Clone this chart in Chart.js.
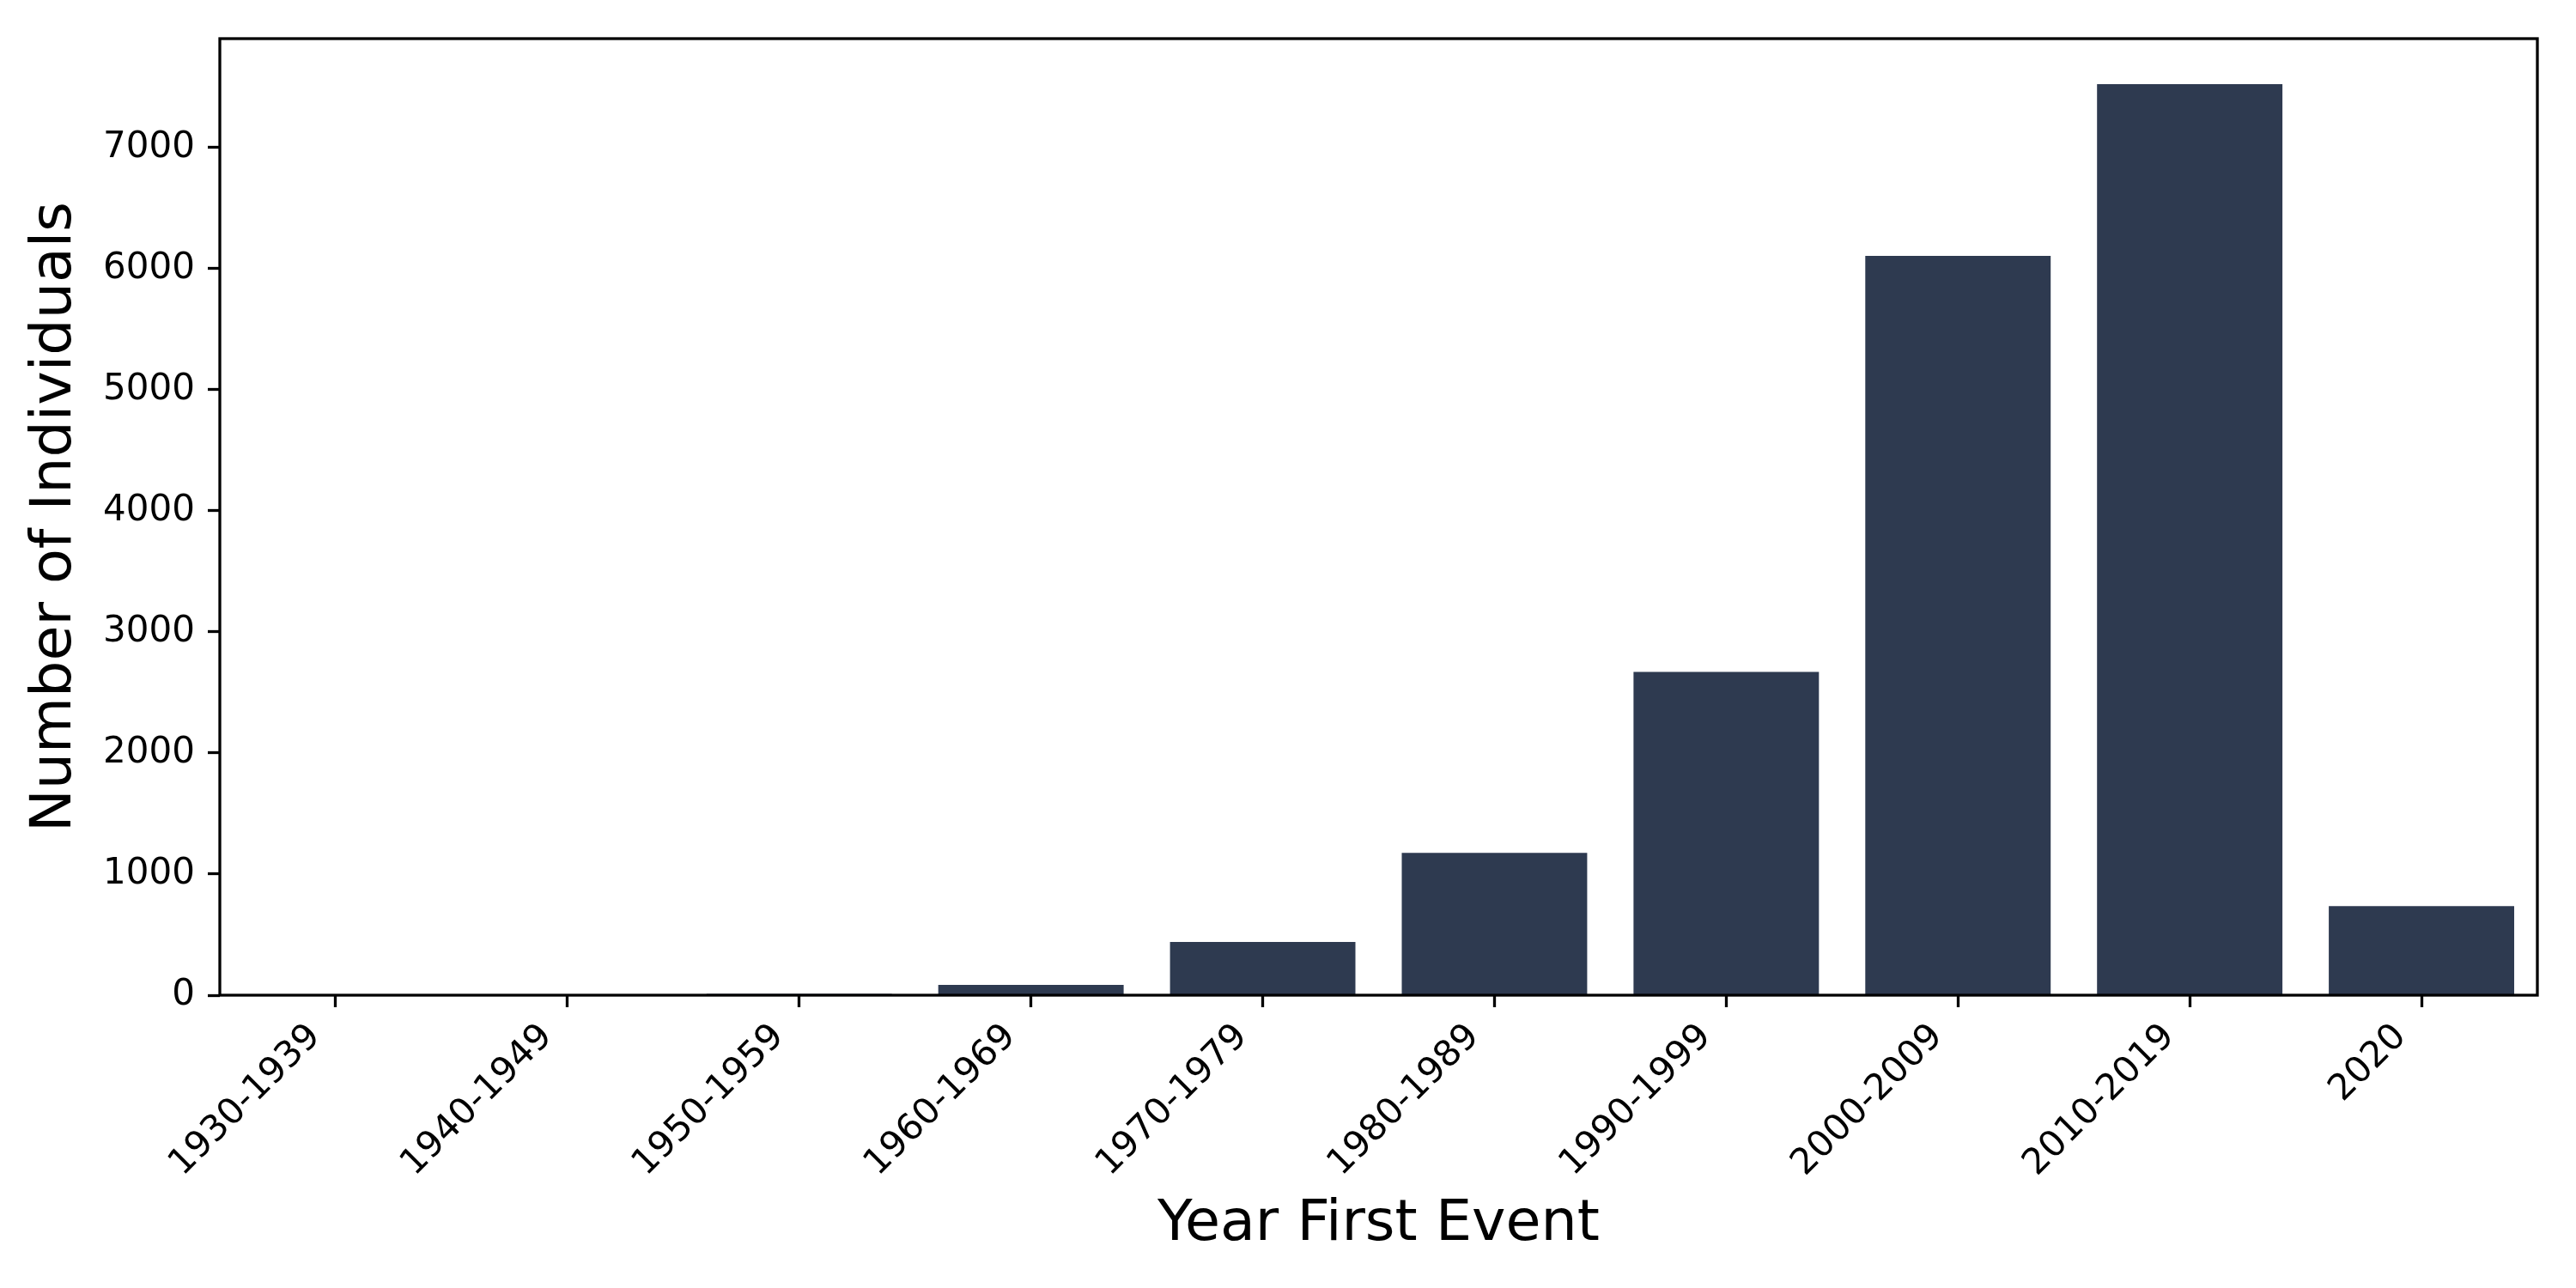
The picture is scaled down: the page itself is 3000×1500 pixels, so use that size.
<!DOCTYPE html>
<html>
<head>
<meta charset="utf-8">
<script src="https://cdn.jsdelivr.net/npm/chart.js@4/dist/chart.umd.min.js"></script>
<style>
  html, body { margin: 0; padding: 0; background: #fff; }
  #wrap { width: 3000px; height: 1500px; position: relative; }
</style>
</head>
<body>
<div id="wrap"><canvas id="myChart"></canvas></div>
<script>
// data
const decades = ["1930-1939", "1940-1949", "1950-1959", "1960-1969", "1970-1979",
  "1980-1989", "1990-1999", "2000-2009", "2010-2019", "2020"];
const individuals = [1, 1, 10, 85, 440, 1175, 2670, 6105, 7525, 735];
const yTicks = [0, 1000, 2000, 3000, 4000, 5000, 6000, 7000];
const yMax = 7900;

const barColor = "#2e3a50";
const font = "'DejaVu Sans', sans-serif";
const tickFont = { family: font, size: 42 };
const titleFont = { family: font, size: 66.7 };

// box around the plot, like the matplotlib spines
const frame = {
  id: "frame",
  afterDatasetsDraw(chart) {
    const { ctx, chartArea: a } = chart;
    ctx.save();
    ctx.strokeStyle = "#000";
    ctx.lineWidth = 3.3;
    ctx.strokeRect(a.left, a.top, a.right - a.left, a.bottom - a.top);
    ctx.restore();
  }
};

new Chart(document.getElementById("myChart"), {
  type: "bar",
  data: {
    labels: decades,
    datasets: [{
      data: individuals,
      backgroundColor: barColor,
      borderWidth: 0,
      categoryPercentage: 0.8,
      barPercentage: 1.0
    }]
  },
  options: {
    responsive: true,
    maintainAspectRatio: false,
    animation: false,
    layout: { padding: { left: 0, top: 45, right: 45, bottom: 0 } },
    plugins: { legend: { display: false }, tooltip: { enabled: false } },
    scales: {
      x: {
        offset: true,
        border: { display: false },
        grid: {
          offset: false,
          drawOnChartArea: false,
          drawTicks: true,
          tickLength: 14,
          tickWidth: 3.3,
          tickColor: "#000"
        },
        ticks: {
          autoSkip: false,
          maxRotation: 45,
          minRotation: 45,
          padding: 10,
          labelOffset: -24,
          color: "#000",
          font: tickFont
        },
        title: {
          display: true,
          text: "Year First Event",
          color: "#000",
          font: titleFont,
          padding: { top: 0, bottom: 33 }
        },
        afterFit(scale) { scale.height = 341; }
      },
      y: {
        min: 0,
        max: yMax,
        border: { display: false },
        grid: {
          drawOnChartArea: false,
          drawTicks: true,
          tickLength: 14,
          tickWidth: 3.3,
          tickColor: "#000"
        },
        ticks: {
          stepSize: 1000,
          padding: 15,
          color: "#000",
          font: tickFont,
          callback: (v) => String(v)
        },
        afterBuildTicks(scale) {
          scale.ticks = yTicks.map(v => ({ value: v }));
        },
        title: {
          display: true,
          text: "Number of Individuals",
          color: "#000",
          font: titleFont,
          padding: { top: 25, bottom: 0 }
        },
        afterFit(scale) { scale.width = 256; }
      }
    }
  },
  plugins: [frame]
});
</script>
</body>
</html>
